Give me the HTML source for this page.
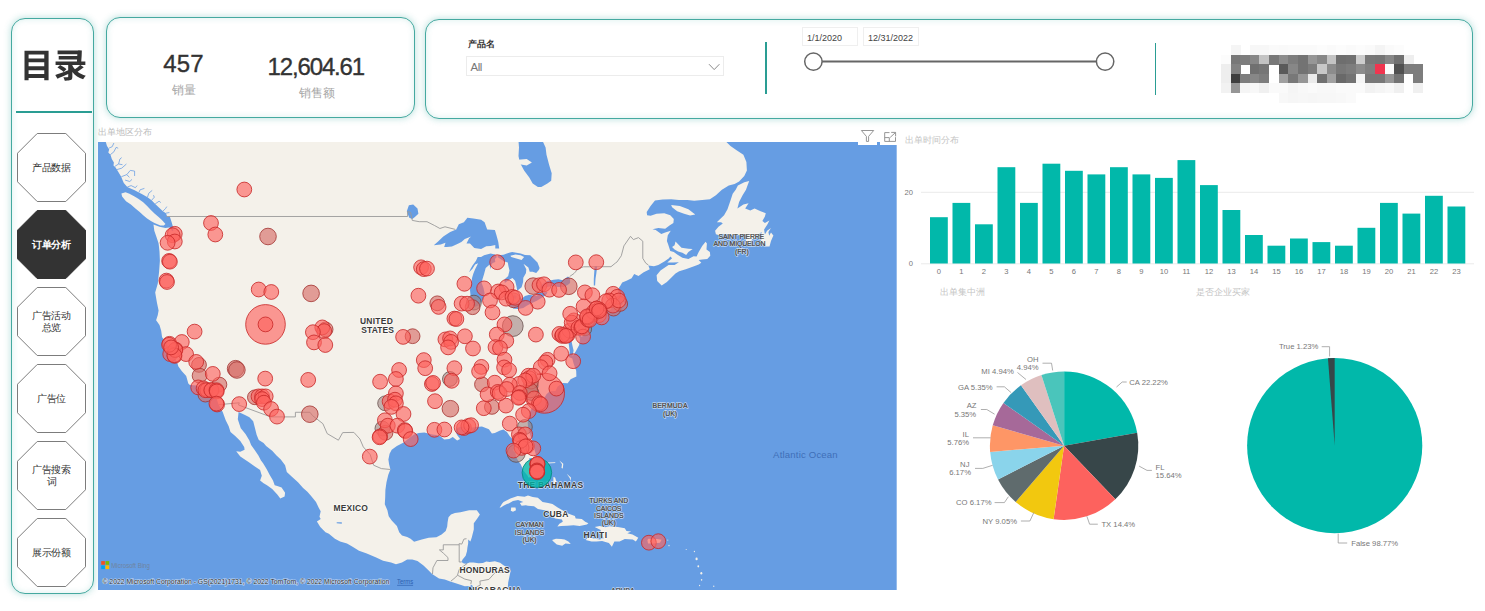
<!DOCTYPE html>
<html lang="zh">
<head>
<meta charset="utf-8">
<title>订单分析</title>
<style>
*{box-sizing:border-box;margin:0;padding:0}
html,body{width:1485px;height:611px;background:#fff;overflow:hidden}
body{position:relative;font-family:"Liberation Sans",sans-serif;color:#333}
.abs{position:absolute}
.card{position:absolute;border:1px solid #45a9a0;background:#fff;box-shadow:0 0 6px 1px rgba(58,169,159,.3),inset 0 0 6px 0 rgba(58,169,159,.2)}
.lbl{position:absolute;white-space:nowrap;line-height:1}
.oct{position:absolute;left:17px;width:69px;height:69px}
.oct svg{position:absolute;left:0;top:0}
.oct span{position:absolute;left:0;right:0;top:50%;transform:translateY(-50%);text-align:center;font-size:10.3px;line-height:12px;color:#333;letter-spacing:-.3px}
.oct.on span{color:#fff;font-weight:bold}
.gray{color:#b9b9b9}
</style>
</head>
<body>
<!-- left nav -->
<div class="card" style="left:11px;top:18px;width:83px;height:576px;border-radius:14px"></div>
<svg class="abs" style="left:19px;top:44px" width="70" height="40" viewBox="0 0 70 40" role="img" aria-label="目录"><title>目录</title>
<g transform="translate(0.74,33.5) scale(0.03377,-0.03377)" fill="#333"><path d="M262 450H726V332H262ZM262 564V678H726V564ZM262 218H726V101H262ZM141 795V-79H262V-16H726V-79H854V795Z"/><path transform="translate(1000,0)" d="M116 295C179 259 260 204 297 166L382 248C341 286 258 337 196 368ZM121 801V691H705L703 638H154V531H697L694 477H61V373H435V215C294 160 147 105 52 73L118 -35C210 2 324 51 435 100V26C435 12 429 8 413 8C398 7 340 7 292 10C308 -19 326 -62 333 -93C409 -94 463 -92 504 -77C545 -61 558 -34 558 23V166C639 66 744 -10 876 -54C894 -21 929 28 956 52C862 77 780 117 713 170C771 206 838 254 896 301L797 373H943V477H821C831 580 838 696 839 800L743 805L721 801ZM558 373H790C750 332 689 281 635 242C605 276 579 312 558 352Z"/></g></svg>
<div class="abs" style="left:16px;top:111.4px;width:76px;height:2px;background:#2a9d93"></div>
<div class="oct" style="top:133px"><svg width="69" height="69" viewBox="0 0 69 69"><polygon points="20.2,0.5 48.8,0.5 68.5,20.2 68.5,48.8 48.8,68.5 20.2,68.5 0.5,48.8 0.5,20.2" fill="#fff" stroke="#7c7c7c" stroke-width="1"/></svg><span>产品数据</span></div>
<div class="oct on" style="top:210px"><svg width="69" height="69" viewBox="0 0 69 69"><polygon points="20.2,0.5 48.8,0.5 68.5,20.2 68.5,48.8 48.8,68.5 20.2,68.5 0.5,48.8 0.5,20.2" fill="#333" stroke="#333" stroke-width="1"/></svg><span>订单分析</span></div>
<div class="oct" style="top:287px"><svg width="69" height="69" viewBox="0 0 69 69"><polygon points="20.2,0.5 48.8,0.5 68.5,20.2 68.5,48.8 48.8,68.5 20.2,68.5 0.5,48.8 0.5,20.2" fill="#fff" stroke="#7c7c7c" stroke-width="1"/></svg><span>广告活动<br>总览</span></div>
<div class="oct" style="top:364px"><svg width="69" height="69" viewBox="0 0 69 69"><polygon points="20.2,0.5 48.8,0.5 68.5,20.2 68.5,48.8 48.8,68.5 20.2,68.5 0.5,48.8 0.5,20.2" fill="#fff" stroke="#7c7c7c" stroke-width="1"/></svg><span>广告位</span></div>
<div class="oct" style="top:441px"><svg width="69" height="69" viewBox="0 0 69 69"><polygon points="20.2,0.5 48.8,0.5 68.5,20.2 68.5,48.8 48.8,68.5 20.2,68.5 0.5,48.8 0.5,20.2" fill="#fff" stroke="#7c7c7c" stroke-width="1"/></svg><span>广告搜索<br>词</span></div>
<div class="oct" style="top:518px"><svg width="69" height="69" viewBox="0 0 69 69"><polygon points="20.2,0.5 48.8,0.5 68.5,20.2 68.5,48.8 48.8,68.5 20.2,68.5 0.5,48.8 0.5,20.2" fill="#fff" stroke="#7c7c7c" stroke-width="1"/></svg><span>展示份额</span></div>
<!-- KPI card -->
<div class="card" style="left:106px;top:17px;width:309px;height:101px;border-radius:14px"></div>
<div class="lbl" style="left:163.3px;top:52.3px;font-size:24px;color:#333;letter-spacing:.1px;-webkit-text-stroke:.35px #333">457</div>
<div class="lbl gray" style="left:172px;top:84px;font-size:12px;color:#a6a6a6">销量</div>
<div class="lbl" style="left:267.6px;top:55.3px;font-size:24px;color:#333;letter-spacing:-1.15px;-webkit-text-stroke:.35px #333">12,604.61</div>
<div class="lbl gray" style="left:299px;top:87px;font-size:12.3px;color:#a6a6a6">销售额</div>
<!-- slicer card -->
<div class="card" style="left:424.5px;top:19px;width:1048.5px;height:99.7px;border-radius:14px"></div>
<div class="lbl" style="left:467.5px;top:40px;font-size:9px;font-weight:bold;color:#333">产品名</div>
<div class="abs" style="left:465.5px;top:55.5px;width:258px;height:20.5px;border:1px solid #ececec;background:#fff"></div>
<div class="lbl" style="left:470.5px;top:62.2px;font-size:11.4px;color:#777;letter-spacing:-.4px">All</div>
<svg class="abs" style="left:708px;top:62px" width="13" height="10" viewBox="0 0 13 10"><path d="M1 2.2 L6.2 7.6 L11.4 2.2" fill="none" stroke="#8a8a8a" stroke-width="1"/></svg>
<div class="abs" style="left:765.2px;top:42px;width:1.6px;height:51.5px;background:#2a9d93"></div>
<div class="abs" style="left:801.5px;top:27px;width:56px;height:19px;border:1px solid #efefef"></div>
<div class="lbl" style="left:807px;top:33.6px;font-size:9px;color:#444">1/1/2020</div>
<div class="abs" style="left:862.5px;top:27px;width:56px;height:19px;border:1px solid #efefef"></div>
<div class="lbl" style="left:868px;top:33.6px;font-size:9px;color:#444">12/31/2022</div>
<svg class="abs" style="left:800px;top:48px" width="320" height="28" viewBox="0 0 320 28"><line x1="13.4" y1="13.5" x2="305.1" y2="13.5" stroke="#666" stroke-width="2"/><circle cx="13.4" cy="13.6" r="8.7" fill="#fff" stroke="#666" stroke-width="1.5"/><circle cx="305.1" cy="13.6" r="8.7" fill="#fff" stroke="#666" stroke-width="1.5"/></svg>
<div class="abs" style="left:1154.7px;top:43px;width:1.6px;height:52px;background:#2a9d93"></div>
<svg class="abs" style="left:1221.4px;top:45.3px" width="202.0" height="57.7" viewBox="0 0 202.0 57.7" shape-rendering="crispEdges"><rect x="9.62" y="0.00" width="9.92" height="9.92" fill="#f5f5f5"/><rect x="28.86" y="0.00" width="9.92" height="9.92" fill="#f7f7f7"/><rect x="38.48" y="0.00" width="9.92" height="9.92" fill="#f7f7f7"/><rect x="48.10" y="0.00" width="9.92" height="9.92" fill="#fafafa"/><rect x="57.72" y="0.00" width="9.92" height="9.92" fill="#f9f9f9"/><rect x="67.34" y="0.00" width="9.92" height="9.92" fill="#fafafa"/><rect x="76.96" y="0.00" width="9.92" height="9.92" fill="#fafafa"/><rect x="86.58" y="0.00" width="9.92" height="9.92" fill="#fafafa"/><rect x="96.20" y="0.00" width="9.92" height="9.92" fill="#fcfcfc"/><rect x="105.82" y="0.00" width="9.92" height="9.92" fill="#fafafa"/><rect x="115.44" y="0.00" width="9.92" height="9.92" fill="#fcfcfc"/><rect x="125.06" y="0.00" width="9.92" height="9.92" fill="#fafafa"/><rect x="134.68" y="0.00" width="9.92" height="9.92" fill="#fcfcfc"/><rect x="144.30" y="0.00" width="9.92" height="9.92" fill="#fafafa"/><rect x="153.92" y="0.00" width="9.92" height="9.92" fill="#f4f4f4"/><rect x="163.54" y="0.00" width="9.92" height="9.92" fill="#fafafa"/><rect x="173.16" y="0.00" width="9.92" height="9.92" fill="#fcfcfc"/><rect x="0.00" y="9.62" width="9.92" height="9.92" fill="#fcfcfc"/><rect x="9.62" y="9.62" width="9.92" height="9.92" fill="#787878"/><rect x="19.24" y="9.62" width="9.92" height="9.92" fill="#7d7d7d"/><rect x="28.86" y="9.62" width="9.92" height="9.92" fill="#878787"/><rect x="38.48" y="9.62" width="9.92" height="9.92" fill="#c3c3c3"/><rect x="48.10" y="9.62" width="9.92" height="9.92" fill="#787878"/><rect x="57.72" y="9.62" width="9.92" height="9.92" fill="#8c8c8c"/><rect x="67.34" y="9.62" width="9.92" height="9.92" fill="#7d7d7d"/><rect x="76.96" y="9.62" width="9.92" height="9.92" fill="#737373"/><rect x="86.58" y="9.62" width="9.92" height="9.92" fill="#969696"/><rect x="96.20" y="9.62" width="9.92" height="9.92" fill="#878787"/><rect x="105.82" y="9.62" width="9.92" height="9.92" fill="#c3c3c3"/><rect x="115.44" y="9.62" width="9.92" height="9.92" fill="#6e6e6e"/><rect x="125.06" y="9.62" width="9.92" height="9.92" fill="#707070"/><rect x="134.68" y="9.62" width="9.92" height="9.92" fill="#cdcdcd"/><rect x="144.30" y="9.62" width="9.92" height="9.92" fill="#787878"/><rect x="153.92" y="9.62" width="9.92" height="9.92" fill="#767676"/><rect x="163.54" y="9.62" width="9.92" height="9.92" fill="#878787"/><rect x="173.16" y="9.62" width="9.92" height="9.92" fill="#707070"/><rect x="182.78" y="9.62" width="9.92" height="9.92" fill="#eeeeee"/><rect x="0.00" y="19.24" width="9.92" height="9.92" fill="#eeeeee"/><rect x="9.62" y="19.24" width="9.92" height="9.92" fill="#828282"/><rect x="28.86" y="19.24" width="9.92" height="9.92" fill="#707070"/><rect x="38.48" y="19.24" width="9.92" height="9.92" fill="#767676"/><rect x="57.72" y="19.24" width="9.92" height="9.92" fill="#5a5a5a"/><rect x="67.34" y="19.24" width="9.92" height="9.92" fill="#878787"/><rect x="76.96" y="19.24" width="9.92" height="9.92" fill="#737373"/><rect x="86.58" y="19.24" width="9.92" height="9.92" fill="#7d7d7d"/><rect x="96.20" y="19.24" width="9.92" height="9.92" fill="#c8c8c8"/><rect x="105.82" y="19.24" width="9.92" height="9.92" fill="#8c8c8c"/><rect x="115.44" y="19.24" width="9.92" height="9.92" fill="#787878"/><rect x="125.06" y="19.24" width="9.92" height="9.92" fill="#7d7d7d"/><rect x="134.68" y="19.24" width="9.92" height="9.92" fill="#8c8c8c"/><rect x="144.30" y="19.24" width="9.92" height="9.92" fill="#808080"/><rect x="153.92" y="19.24" width="9.92" height="9.92" fill="#f0354f"/><rect x="163.54" y="19.24" width="9.92" height="9.92" fill="#fafafa"/><rect x="173.16" y="19.24" width="9.92" height="9.92" fill="#505050"/><rect x="182.78" y="19.24" width="9.92" height="9.92" fill="#7d7d7d"/><rect x="192.40" y="19.24" width="9.92" height="9.92" fill="#7d7d7d"/><rect x="0.00" y="28.86" width="9.92" height="9.92" fill="#eeeeee"/><rect x="9.62" y="28.86" width="9.92" height="9.92" fill="#3e3e3e"/><rect x="19.24" y="28.86" width="9.92" height="9.92" fill="#7d7d7d"/><rect x="28.86" y="28.86" width="9.92" height="9.92" fill="#878787"/><rect x="38.48" y="28.86" width="9.92" height="9.92" fill="#7d7d7d"/><rect x="57.72" y="28.86" width="9.92" height="9.92" fill="#a0a0a0"/><rect x="67.34" y="28.86" width="9.92" height="9.92" fill="#787878"/><rect x="76.96" y="28.86" width="9.92" height="9.92" fill="#969696"/><rect x="86.58" y="28.86" width="9.92" height="9.92" fill="#ebebeb"/><rect x="96.20" y="28.86" width="9.92" height="9.92" fill="#707070"/><rect x="105.82" y="28.86" width="9.92" height="9.92" fill="#a0a0a0"/><rect x="115.44" y="28.86" width="9.92" height="9.92" fill="#696969"/><rect x="125.06" y="28.86" width="9.92" height="9.92" fill="#737373"/><rect x="134.68" y="28.86" width="9.92" height="9.92" fill="#f5f5f5"/><rect x="144.30" y="28.86" width="9.92" height="9.92" fill="#787878"/><rect x="153.92" y="28.86" width="9.92" height="9.92" fill="#787878"/><rect x="163.54" y="28.86" width="9.92" height="9.92" fill="#969696"/><rect x="173.16" y="28.86" width="9.92" height="9.92" fill="#737373"/><rect x="192.40" y="28.86" width="9.92" height="9.92" fill="#7d7d7d"/><rect x="0.00" y="38.48" width="9.92" height="9.92" fill="#f2f2f2"/><rect x="9.62" y="38.48" width="9.92" height="9.92" fill="#969696"/><rect x="19.24" y="38.48" width="9.92" height="9.92" fill="#f5f5f5"/><rect x="28.86" y="38.48" width="9.92" height="9.92" fill="#f8f8f8"/><rect x="38.48" y="38.48" width="9.92" height="9.92" fill="#f0f0f0"/><rect x="48.10" y="38.48" width="9.92" height="9.92" fill="#fafafa"/><rect x="57.72" y="38.48" width="9.92" height="9.92" fill="#fafafa"/><rect x="67.34" y="38.48" width="9.92" height="9.92" fill="#f5f5f5"/><rect x="76.96" y="38.48" width="9.92" height="9.92" fill="#f8f8f8"/><rect x="86.58" y="38.48" width="9.92" height="9.92" fill="#fafafa"/><rect x="96.20" y="38.48" width="9.92" height="9.92" fill="#f8f8f8"/><rect x="105.82" y="38.48" width="9.92" height="9.92" fill="#f8f8f8"/><rect x="115.44" y="38.48" width="9.92" height="9.92" fill="#fafafa"/><rect x="125.06" y="38.48" width="9.92" height="9.92" fill="#fafafa"/><rect x="134.68" y="38.48" width="9.92" height="9.92" fill="#fafafa"/><rect x="144.30" y="38.48" width="9.92" height="9.92" fill="#f2f2f2"/><rect x="153.92" y="38.48" width="9.92" height="9.92" fill="#f5f5f5"/><rect x="163.54" y="38.48" width="9.92" height="9.92" fill="#f8f8f8"/><rect x="173.16" y="38.48" width="9.92" height="9.92" fill="#f0f0f0"/><rect x="192.40" y="38.48" width="9.92" height="9.92" fill="#f0f0f0"/><rect x="57.72" y="48.10" width="9.92" height="9.92" fill="#f8f8f8"/><rect x="67.34" y="48.10" width="9.92" height="9.92" fill="#f6f6f6"/><rect x="76.96" y="48.10" width="9.92" height="9.92" fill="#f7f7f7"/><rect x="86.58" y="48.10" width="9.92" height="9.92" fill="#f6f6f6"/><rect x="96.20" y="48.10" width="9.92" height="9.92" fill="#f7f7f7"/><rect x="105.82" y="48.10" width="9.92" height="9.92" fill="#f7f7f7"/><rect x="115.44" y="48.10" width="9.92" height="9.92" fill="#f8f8f8"/><rect x="125.06" y="48.10" width="9.92" height="9.92" fill="#fafafa"/></svg>
<!-- map -->
<div class="lbl" style="left:98.3px;top:127.8px;font-size:9px;color:#bcbcbc">出单地区分布</div>
<svg class="abs" style="left:98.4px;top:141.6px" width="798.7" height="448.6" viewBox="0 0 798.7 448.6">
<rect width="798.7" height="448.6" fill="#669de3"/>
<path fill="#f4f1ea" d="M-3.0 -24.5L6.5 -4.9L7.8 0.0L9.0 4.0L11.2 7.6L10.3 10.5L12.5 12.7L13.8 17.0L15.9 20.6L15.5 23.4L17.6 25.5L20.2 29.8L23.2 34.7L24.5 38.1L25.8 40.9L29.3 45.0L33.1 46.7L36.1 48.0L40.9 50.5L44.7 52.4L49.5 55.2L53.6 58.3L57.2 61.9L60.9 65.5L64.9 69.2L67.9 71.2L69.2 74.5L71.8 74.5L73.5 79.7L74.8 84.2L75.3 88.7L74.0 89.3L72.7 86.1L71.0 85.5L67.5 85.9L61.5 84.8L55.5 82.5L56.3 88.7L58.9 96.3L60.6 101.4L61.5 109.5L61.9 118.7L61.1 129.7L59.8 141.6L57.2 150.5L58.9 160.4L60.6 168.4L59.8 172.9L58.1 178.2L61.5 183.1L63.2 188.7L64.1 195.3L68.4 200.8L70.1 205.2L73.5 207.4L74.4 212.8L77.0 216.6L79.1 220.3L80.4 224.6L83.9 229.3L88.2 234.1L90.3 241.4L91.9 243.0L98.5 243.5L102.8 246.1L108.8 247.3L109.7 250.2L114.0 251.8L118.7 256.9L120.6 262.7L124.7 270.1L127.7 278.2L130.7 284.2L132.5 290.1L137.2 294.1L142.3 299.0L146.2 304.9L146.6 307.8L142.3 309.7L138.2 309.2L142.3 314.6L147.5 317.9L150.9 320.3L156.5 324.2L162.1 328.0L163.8 333.7L162.1 338.5L165.6 341.3L169.0 343.2L174.2 346.9L179.3 352.6L182.3 356.5L186.6 354.4L187.1 350.7L183.6 345.5L179.3 344.1L176.7 343.2L175.0 338.5L171.6 332.8L168.6 327.0L165.1 321.3L163.0 318.4L160.4 313.6L156.5 307.8L153.1 302.9L151.4 298.5L147.5 292.1L142.8 286.2L141.1 281.2L139.8 277.2L140.6 270.1L147.5 273.2L151.4 275.2L155.2 279.2L157.0 286.2L158.7 293.1L160.8 298.0L165.6 301.0L168.1 303.9L174.2 308.8L178.5 313.6L182.8 317.5L187.1 323.2L188.8 329.9L193.9 334.7L200.0 340.3L205.1 346.0L209.4 349.7L212.7 353.5L218.0 360.0L220.6 365.6L222.7 369.3L221.5 374.8L222.7 377.1L218.9 379.4L222.3 384.9L227.5 390.3L230.9 391.7L236.9 396.7L242.1 399.4L249.0 401.6L254.6 404.8L261.0 408.8L268.8 411.5L278.2 415.6L285.1 418.7L293.1 420.5L298.0 422.3L304.0 420.5L309.2 417.6L314.3 417.4L319.5 419.1L325.5 423.6L330.7 428.5L334.1 432.0L341.0 436.5L346.8 437.6L352.2 439.6L355.4 440.6L360.8 442.2L366.8 444.2L372.0 444.0L373.7 442.7L375.4 444.9L376.3 446.6L381.4 451.9L386.6 458.9L408.9 458.9L408.9 450.1L409.8 445.7L410.2 440.5L411.5 434.3L412.8 428.1L409.8 425.8L405.5 423.2L402.1 420.7L396.9 419.3L391.7 420.0L388.3 419.6L384.9 421.1L380.6 421.2L375.4 420.5L371.5 420.5L368.5 421.8L365.9 421.6L363.4 420.0L364.6 417.4L367.7 413.8L369.0 409.3L369.4 405.7L370.2 401.2L370.2 397.6L372.4 399.4L373.7 395.8L375.8 387.6L375.8 381.2L379.3 376.6L381.9 372.5L378.8 368.3L371.1 368.3L362.5 370.2L356.9 371.1L353.0 372.5L350.5 375.2L349.6 380.3L349.2 384.4L347.7 389.0L343.6 392.6L338.4 395.3L330.7 395.8L323.8 397.6L316.1 399.8L312.6 396.7L309.2 394.9L304.0 393.5L301.2 390.3L298.9 383.9L293.7 378.5L290.7 374.3L289.4 368.3L286.8 362.3L287.2 355.4L287.4 347.9L288.5 340.3L290.3 332.8L292.4 327.5L291.1 322.3L290.4 317.5L291.6 311.7L293.7 307.8L298.9 303.9L305.7 300.5L312.6 295.1L316.1 292.6L320.8 291.1L326.4 290.4L334.1 292.6L338.4 293.1L342.7 294.6L346.2 297.5L351.3 297.0L354.8 295.1L359.1 298.5L362.1 297.0L359.1 293.1L357.3 289.1L359.5 285.7L364.2 284.4L370.2 285.2L372.0 282.2L373.2 285.7L378.0 284.9L384.0 284.4L390.9 287.2L393.9 291.4L396.9 291.1L402.1 288.6L405.5 287.4L408.9 290.1L412.4 295.1L415.8 298.0L416.7 302.9L415.4 308.8L417.5 310.7L418.0 314.6L420.5 319.4L422.7 322.3L424.4 326.1L425.3 328.5L429.6 333.7L430.4 335.4L433.9 335.1L436.5 334.7L438.2 330.9L438.8 329.0L439.5 324.2L439.6 318.4L438.2 313.6L436.5 307.8L435.6 303.4L434.3 299.0L433.0 295.1L430.9 289.1L430.0 284.2L429.6 278.2L430.9 273.2L433.0 267.6L436.5 263.6L440.8 260.5L445.5 257.4L448.5 252.3L451.9 249.2L457.5 248.9L459.7 244.5L464.8 240.9L469.7 241.2L472.6 237.2L478.4 234.6L478.2 228.8L475.6 221.4L474.3 216.6L470.9 214.9L471.7 209.5L470.9 203.0L470.0 196.4L470.9 192.0L473.9 189.2L473.0 196.4L474.3 203.0L475.6 208.5L474.5 214.4L477.7 209.5L481.2 203.0L482.2 196.4L479.5 192.0L478.6 188.7L482.0 192.0L483.8 195.0L488.1 190.2L490.6 185.3L491.5 178.6L490.6 176.3L492.4 174.1L494.9 171.8L501.0 168.7L507.8 168.4L513.0 167.6L514.3 163.8L516.4 166.1L519.9 164.4L520.3 165.8L525.9 164.6L526.3 162.7L525.5 160.0L524.0 159.5L525.0 162.1L523.3 163.2L521.2 162.7L520.3 160.4L519.0 157.5L517.3 156.3L518.6 154.0L520.7 152.8L519.5 148.1L522.5 143.4L524.2 140.4L528.5 138.7L533.6 136.3L536.2 132.1L540.5 133.9L545.7 130.3L551.7 127.3L550.4 123.6L556.0 124.2L560.3 123.0L566.3 119.4L571.0 116.3L572.3 114.4L574.1 116.3L569.3 120.6L574.9 120.6L580.9 120.2L576.6 123.0L570.6 123.0L562.5 128.5L558.6 133.3L559.2 138.9L563.7 143.4L568.9 139.9L573.2 135.7L577.5 131.5L581.2 129.3L587.8 127.3L594.7 124.8L600.7 122.4L603.3 120.8L600.7 118.1L604.2 117.5L609.3 116.9L612.3 113.8L611.9 110.1L608.5 107.6L608.9 101.4L607.6 99.7L604.2 103.9L600.7 110.1L598.6 114.4L595.6 114.2L590.4 116.9L584.4 115.7L579.2 112.6L575.8 110.1L572.3 108.9L570.2 102.6L568.9 98.9L569.8 93.2L572.8 88.7L567.2 90.6L563.3 91.9L557.7 88.1L554.5 87.2L560.3 86.1L567.2 86.8L571.5 83.6L575.4 81.0L575.8 77.1L572.3 73.2L566.3 71.2L558.6 71.8L552.6 73.8L549.1 73.2L548.7 69.9L552.6 63.9L557.0 58.6L564.6 57.5L573.2 57.2L580.9 57.9L589.5 57.9L596.2 58.8L604.2 57.9L611.9 57.2L617.9 53.2L623.9 47.8L630.8 43.6L636.6 41.9L641.1 39.5L646.3 34.0L648.9 28.4L648.4 19.9L645.4 12.7L638.6 8.3L632.5 4.0L626.5 -1.9L620.5 -24.5Z M23.4 51.6L27.5 50.2L31.5 51.8L36.1 54.3L40.3 56.8L45.2 60.3L49.1 63.9L52.9 67.9L56.5 71.6L60.6 74.9L63.9 78.1L67.5 82.0L65.8 83.6L62.4 83.6L56.5 81.0L52.9 79.0L49.1 76.4L45.2 73.2L41.7 69.9L37.4 66.6L32.9 62.6L28.0 59.2L24.1 54.5Z M617.9 92.3L620.5 92.9L626.5 91.9L632.5 92.5L639.4 93.2L646.3 92.5L648.9 94.4L647.2 101.4L651.5 101.6L654.0 97.6L658.3 94.4L663.5 90.0L663.9 96.3L661.8 102.4L666.9 100.8L667.4 104.5L671.5 104.5L673.0 98.9L675.4 93.5L673.0 90.6L671.2 93.8L670.4 90.0L673.0 86.1L669.1 88.7L666.9 92.5L666.1 87.4L669.5 82.3L671.4 78.4L666.9 81.0L664.4 79.0L666.9 74.5L667.8 71.2L662.6 69.2L656.6 66.6L652.3 68.5L647.2 66.6L650.6 61.2L645.4 62.6L639.4 66.6L641.1 59.9L644.6 53.2L648.0 47.8L649.7 43.0L651.2 39.1L646.3 40.2L639.9 43.6L637.7 47.8L634.7 51.8L632.5 58.6L629.5 67.2L626.1 73.2L621.4 77.7L618.8 80.3L623.1 80.3L624.8 81.6L620.5 84.8L617.1 88.7Z M577.5 99.5L583.5 105.8L590.4 106.8L594.7 107.0L590.4 110.1L588.2 113.0L584.4 110.7L580.1 109.5L576.6 107.6L574.1 104.9L576.6 103.3Z M573.2 63.0L581.8 63.9L590.4 67.2L597.3 72.5L592.1 73.4L586.1 71.8L579.2 69.2L574.1 65.2Z M401.6 365.6L402.9 363.7L403.8 361.9L405.5 360.0L412.4 356.5L419.7 354.0L426.6 354.7L430.0 353.5L434.7 354.9L439.9 355.8L444.6 360.0L450.2 360.9L454.5 361.9L459.7 365.6L464.0 367.9L470.0 371.6L473.4 372.7L476.9 373.9L477.7 376.6L483.8 377.1L487.2 379.8L490.4 381.2L488.9 382.4L481.6 383.9L475.6 383.3L469.1 383.7L463.1 384.1L459.4 384.4L461.4 381.7L464.8 379.8L464.0 377.5L457.1 376.6L452.8 373.4L450.6 368.8L445.1 367.9L439.9 367.0L436.0 364.2L430.0 363.7L427.9 363.3L423.6 363.7L421.8 360.9L425.3 360.0L420.1 358.1L415.0 359.1L410.7 361.4L408.9 361.9L405.5 363.7L402.9 365.6Z M413.2 365.6L417.5 365.6L418.0 368.3L415.0 369.7L412.8 368.8Z M454.1 398.0L458.0 396.7L463.1 396.9L466.6 397.6L470.4 399.6L472.8 401.9L467.4 401.6L464.2 403.7L458.8 402.4L455.4 399.4Z M496.7 384.9L501.8 383.9L507.0 385.3L511.7 384.2L519.9 384.9L526.8 386.2L528.5 389.0L533.2 389.4L529.3 391.2L534.5 392.6L540.3 395.8L537.9 399.4L534.8 397.4L526.8 396.9L521.6 399.4L516.4 399.4L513.9 404.8L510.9 400.9L504.1 399.1L498.4 399.4L493.6 399.4L487.6 398.0L490.5 395.3L496.7 396.7L501.8 397.4L505.7 396.2L502.7 391.2L502.7 388.0L499.2 386.2Z M550.4 396.7L559.4 396.9L563.6 397.8L562.0 400.7L555.1 401.5L550.0 401.6L549.4 398.0Z M455.4 335.1L457.1 335.6L459.2 342.2L459.7 346.9L458.0 345.1L455.4 340.3Z M449.4 320.5L457.1 320.2L457.5 321.1L449.4 321.5Z M461.4 318.4L465.3 321.8L464.8 326.6L463.5 326.1L464.0 322.3Z M468.7 331.8L473.0 335.6L472.6 338.9L471.7 336.1Z M491.2 176.3L494.1 173.3L499.2 172.4L504.4 171.8L506.1 170.1L509.9 171.0L505.3 173.3L500.1 175.0L494.9 176.6Z"/>
<path fill="#669de3" d="M419.3 -24.5L420.1 -6.4L421.0 5.4L420.5 14.1L421.8 20.6L426.1 28.4L431.3 35.4L434.7 41.6L439.9 45.0L443.3 45.0L449.4 41.6L453.2 38.8L453.7 31.2L451.1 22.7L448.5 12.7L447.6 5.4L444.2 -1.9L442.5 -24.5Z M335.8 103.3L340.1 99.5L345.3 94.4L352.2 90.0L358.2 87.4L360.8 82.3L365.9 80.3L369.4 75.8L375.4 76.4L383.1 77.7L386.6 80.3L389.2 87.4L396.9 88.1L398.6 93.8L400.3 100.1L401.2 106.4L397.3 106.4L397.3 103.0L392.6 103.9L388.3 104.3L383.1 107.0L376.3 106.1L372.0 101.4L368.5 101.4L371.1 96.3L373.2 94.4L366.8 97.0L363.4 100.1L359.9 101.8L353.9 104.5L348.7 105.1L346.2 105.1L347.5 100.8L342.7 102.6Z M399.0 115.1L396.9 112.6L392.6 111.4L386.1 113.2L383.1 115.1L379.7 115.1L378.0 118.7L374.5 123.6L372.4 127.3L371.1 130.3L374.5 126.7L377.1 122.4L380.1 121.2L377.1 127.3L375.4 131.5L374.1 135.7L373.2 141.6L372.0 148.1L372.8 155.7L374.5 162.1L377.1 164.7L380.6 163.6L384.0 159.2L386.1 154.6L386.6 151.3L385.5 146.0L383.7 141.0L384.4 137.5L386.1 132.1L387.7 126.1L391.7 122.4L392.2 127.3L393.5 122.4L394.7 120.9L397.3 120.0L396.9 116.9Z M399.5 115.1L400.3 113.2L405.5 112.8L408.9 111.4L414.1 110.1L418.4 110.7L422.7 111.4L427.0 113.0L432.2 113.2L436.5 117.5L439.5 120.6L441.6 126.1L440.8 127.9L438.2 130.9L434.7 129.7L431.7 129.7L430.4 125.4L425.5 121.8L428.3 127.3L428.0 130.9L425.3 135.7L425.1 139.9L423.6 145.2L419.3 148.7L418.4 144.0L417.1 138.7L414.5 136.0L410.7 138.1L406.8 141.0L406.4 137.5L410.2 133.9L411.5 128.5L410.4 124.0L409.8 120.6L406.4 119.4L402.9 117.3Z M410.2 163.8L412.8 159.8L418.4 160.9L422.7 157.5L427.0 154.0L431.3 152.8L435.6 153.6L439.5 154.0L438.2 151.1L443.3 150.5L449.5 150.1L448.5 152.2L445.1 155.1L439.2 158.6L433.0 161.5L428.7 163.8L425.3 166.1L420.1 167.0L415.8 166.7L413.2 165.0Z M415.0 155.1L416.7 152.8L418.8 154.6L417.5 156.9Z M441.6 145.4L443.8 142.8L445.9 141.3L449.4 139.0L455.6 137.8L460.5 137.2L464.8 138.3L467.4 136.3L470.0 134.5L472.1 136.3L472.1 141.0L470.0 142.8L465.7 144.9L460.5 144.9L453.7 144.0L447.9 145.2L444.2 146.1Z M431.3 316.0L434.3 316.5L434.3 319.9L431.7 319.9Z M238.7 380.3L243.8 380.3L243.8 381.7L238.7 381.2Z M308.8 69.2L310.9 63.2L315.2 62.6L319.5 66.6L320.4 71.8L316.9 75.1L314.3 77.1L311.3 75.8L310.0 72.5Z M496.7 124.2L499.2 124.2L498.4 130.9L497.5 136.9L497.1 143.4L495.8 143.4L495.8 136.9L496.2 130.9Z"/>
<path fill="#f4f1ea" d="M420.1 17.7L428.7 17.0L433.9 20.6L428.7 23.4L420.1 22.0Z M412.4 113.8L417.5 112.6L422.7 113.2L426.1 115.1L423.6 118.1L417.5 116.3L413.2 115.1Z"/>
<path fill="none" stroke="#669de3" stroke-width="0.9" stroke-opacity=".85" stroke-linejoin="round" d="M12.3 12.7L15.9 9.8L18.1 5.4L20.2 6.2 M10.8 6.2L14.2 4.7L15.9 1.0 M16.8 24.4L20.6 22.0L21.9 17.0L23.7 15.6 M20.6 22.0L24.5 22.7 M18.5 27.7L23.7 26.2L28.4 22.0 M23.4 34.7L28.8 32.6L32.3 28.4L36.6 29.1L36.6 34.0 M28.8 32.6L31.4 35.4 M27.1 38.1L31.8 39.5L34.0 37.4 M29.3 45.0L33.1 43.6L37.4 45.7L39.1 43.6 M40.9 50.5L42.1 47.8L46.4 46.4 M49.5 55.2L50.8 51.2L54.2 48.4 M53.6 58.3L56.3 55.2L55.5 53.2 M57.2 61.9L61.1 59.2L62.8 60.6 M64.9 69.2L67.5 66.6L68.8 64.6 M67.9 71.2L71.4 70.5"/>
<ellipse cx="598.6" cy="416.9" rx="1.1" ry="1.4" fill="#f4f1ea"/>
<ellipse cx="600.3" cy="424.3" rx="0.9" ry="1.1" fill="#f4f1ea"/>
<ellipse cx="603.3" cy="431.2" rx="1.0" ry="1.2" fill="#f4f1ea"/>
<ellipse cx="603.6" cy="437.8" rx="0.7" ry="0.9" fill="#f4f1ea"/>
<ellipse cx="601.6" cy="443.5" rx="0.6" ry="0.8" fill="#f4f1ea"/>
<ellipse cx="596.4" cy="409.5" rx="0.6" ry="0.8" fill="#f4f1ea"/>
<ellipse cx="588.2" cy="407.5" rx="0.5" ry="0.6" fill="#f4f1ea"/>
<ellipse cx="615.8" cy="444.2" rx="0.6" ry="0.8" fill="#f4f1ea"/>
<ellipse cx="571.0" cy="403.6" rx="0.6" ry="0.8" fill="#f4f1ea"/>
<ellipse cx="569.8" cy="398.1" rx="0.5" ry="0.6" fill="#f4f1ea"/>
<path fill="none" stroke="#9a9a9a" stroke-width="0.9" d="M68.4 74.5L309.6 74.5L309.6 69.5L312.6 70.5L314.3 78.4L321.2 79.7L329.0 79.7L336.7 83.6L341.9 86.5L347.0 84.8L357.3 87.4 M485.5 124.8L513.0 124.7L517.3 121.2L519.0 120.0L523.3 113.8L525.9 103.9L532.5 94.3L535.4 97.6L540.5 95.6L544.8 99.2L544.8 116.3L547.8 121.2L550.4 123.0 M471.7 134.5L476.0 131.5L480.3 126.7L485.5 124.8 M120.6 262.7L141.3 260.8L140.5 263.0L172.7 274.9L197.4 274.9L197.4 270.3L212.0 270.3L214.6 273.7L224.9 281.7L229.2 291.6L240.4 298.2L244.7 290.6L255.9 290.4L261.9 297.0L265.3 304.9L272.2 312.6L275.6 323.2L283.4 326.6L292.4 327.5 M334.5 432.0L335.0 425.8L338.9 418.5L350.0 418.5L350.0 415.6L345.3 411.1L341.4 407.9L345.3 407.9L345.3 402.8L361.2 402.8L361.2 420.0L363.4 420.0 M361.2 402.8L361.2 401.6L363.8 402.1L365.9 397.1L368.5 396.7 M369.0 421.6L361.2 427.4L359.5 433.2L357.8 435.1L353.0 439.1 M359.5 433.2L366.8 437.1L373.5 438.7L372.8 442.2 M376.7 445.7L382.3 443.1L381.9 439.1L390.9 437.4L397.8 429.8L406.4 430.3L412.8 428.1"/>
<g font-family="Liberation Sans, sans-serif">
<text x="261.9" y="182.0" font-size="8.5" font-weight="bold" textLength="33.0" fill="#3a3a3a" stroke="#fff" stroke-opacity=".7" stroke-width="1.4" paint-order="stroke" stroke-linejoin="round">UNITED</text>
<text x="263.3" y="190.9" font-size="8.5" font-weight="bold" textLength="32.6" fill="#3a3a3a" stroke="#fff" stroke-opacity=".7" stroke-width="1.4" paint-order="stroke" stroke-linejoin="round">STATES</text>
<text x="235.6" y="368.6" font-size="8.5" font-weight="bold" textLength="34.2" fill="#3a3a3a" stroke="#fff" stroke-opacity=".7" stroke-width="1.4" paint-order="stroke" stroke-linejoin="round">MEXICO</text>
<text x="419.7" y="345.8" font-size="8.5" font-weight="bold" textLength="65.4" fill="#3a3a3a" stroke="#fff" stroke-opacity=".7" stroke-width="1.4" paint-order="stroke" stroke-linejoin="round">THE BAHAMAS</text>
<text x="445.3" y="375.1" font-size="8.5" font-weight="bold" textLength="25.0" fill="#3a3a3a" stroke="#fff" stroke-opacity=".7" stroke-width="1.4" paint-order="stroke" stroke-linejoin="round">CUBA</text>
<text x="485.4" y="395.9" font-size="8.5" font-weight="bold" textLength="23.6" fill="#3a3a3a" stroke="#fff" stroke-opacity=".7" stroke-width="1.4" paint-order="stroke" stroke-linejoin="round">HAITI</text>
<text x="361.6" y="430.9" font-size="8.5" font-weight="bold" textLength="50.0" fill="#3a3a3a" stroke="#fff" stroke-opacity=".7" stroke-width="1.4" paint-order="stroke" stroke-linejoin="round">HONDURAS</text>
<text x="370.5" y="451.1" font-size="8.5" font-weight="bold" textLength="53.0" fill="#3a3a3a" stroke="#fff" stroke-opacity=".7" stroke-width="1.4" paint-order="stroke" stroke-linejoin="round">NICARAGUA</text>
<text x="554.5" y="266.3" font-size="6.9" textLength="35.0" fill="#fff" fill-opacity=".6" stroke="#fff" stroke-opacity=".6" stroke-width="1.5" stroke-linejoin="round">BERMUDA</text><text x="554.5" y="266.3" font-size="6.9" textLength="35.0" fill="#3a3a3a" stroke="#3a3a3a" stroke-width="0.22">BERMUDA</text>
<text x="565.0" y="274.3" font-size="6.9" textLength="14.0" fill="#fff" fill-opacity=".6" stroke="#fff" stroke-opacity=".6" stroke-width="1.5" stroke-linejoin="round">(UK)</text><text x="565.0" y="274.3" font-size="6.9" textLength="14.0" fill="#3a3a3a" stroke="#3a3a3a" stroke-width="0.22">(UK)</text>
<text x="491.2" y="361.1" font-size="6.9" textLength="39.0" fill="#fff" fill-opacity=".6" stroke="#fff" stroke-opacity=".6" stroke-width="1.5" stroke-linejoin="round">TURKS AND</text><text x="491.2" y="361.1" font-size="6.9" textLength="39.0" fill="#3a3a3a" stroke="#3a3a3a" stroke-width="0.22">TURKS AND</text>
<text x="498.1" y="368.6" font-size="6.9" textLength="25.3" fill="#fff" fill-opacity=".6" stroke="#fff" stroke-opacity=".6" stroke-width="1.5" stroke-linejoin="round">CAICOS</text><text x="498.1" y="368.6" font-size="6.9" textLength="25.3" fill="#3a3a3a" stroke="#3a3a3a" stroke-width="0.22">CAICOS</text>
<text x="496.0" y="375.8" font-size="6.9" textLength="29.5" fill="#fff" fill-opacity=".6" stroke="#fff" stroke-opacity=".6" stroke-width="1.5" stroke-linejoin="round">ISLANDS</text><text x="496.0" y="375.8" font-size="6.9" textLength="29.5" fill="#3a3a3a" stroke="#3a3a3a" stroke-width="0.22">ISLANDS</text>
<text x="503.7" y="383.1" font-size="6.9" textLength="14.0" fill="#fff" fill-opacity=".6" stroke="#fff" stroke-opacity=".6" stroke-width="1.5" stroke-linejoin="round">(UK)</text><text x="503.7" y="383.1" font-size="6.9" textLength="14.0" fill="#3a3a3a" stroke="#3a3a3a" stroke-width="0.22">(UK)</text>
<text x="417.4" y="385.5" font-size="6.9" textLength="28.3" fill="#fff" fill-opacity=".6" stroke="#fff" stroke-opacity=".6" stroke-width="1.5" stroke-linejoin="round">CAYMAN</text><text x="417.4" y="385.5" font-size="6.9" textLength="28.3" fill="#3a3a3a" stroke="#3a3a3a" stroke-width="0.22">CAYMAN</text>
<text x="416.8" y="393.1" font-size="6.9" textLength="29.5" fill="#fff" fill-opacity=".6" stroke="#fff" stroke-opacity=".6" stroke-width="1.5" stroke-linejoin="round">ISLANDS</text><text x="416.8" y="393.1" font-size="6.9" textLength="29.5" fill="#3a3a3a" stroke="#3a3a3a" stroke-width="0.22">ISLANDS</text>
<text x="424.5" y="400.3" font-size="6.9" textLength="14.0" fill="#fff" fill-opacity=".6" stroke="#fff" stroke-opacity=".6" stroke-width="1.5" stroke-linejoin="round">(UK)</text><text x="424.5" y="400.3" font-size="6.9" textLength="14.0" fill="#3a3a3a" stroke="#3a3a3a" stroke-width="0.22">(UK)</text>
<text x="620.6" y="96.7" font-size="6.9" textLength="45.5" fill="#fff" fill-opacity=".6" stroke="#fff" stroke-opacity=".6" stroke-width="1.5" stroke-linejoin="round">SAINT PIERRE</text><text x="620.6" y="96.7" font-size="6.9" textLength="45.5" fill="#3a3a3a" stroke="#3a3a3a" stroke-width="0.22">SAINT PIERRE</text>
<text x="615.6" y="104.3" font-size="6.9" textLength="51.8" fill="#fff" fill-opacity=".6" stroke="#fff" stroke-opacity=".6" stroke-width="1.5" stroke-linejoin="round">AND MIQUELON</text><text x="615.6" y="104.3" font-size="6.9" textLength="51.8" fill="#3a3a3a" stroke="#3a3a3a" stroke-width="0.22">AND MIQUELON</text>
<text x="637.1" y="111.9" font-size="6.9" textLength="13.6" fill="#fff" fill-opacity=".6" stroke="#fff" stroke-opacity=".6" stroke-width="1.5" stroke-linejoin="round">(FR)</text><text x="637.1" y="111.9" font-size="6.9" textLength="13.6" fill="#3a3a3a" stroke="#3a3a3a" stroke-width="0.22">(FR)</text>
<text x="513.1" y="451.1" font-size="6.9" textLength="23.6" fill="#fff" fill-opacity=".6" stroke="#fff" stroke-opacity=".6" stroke-width="1.5" stroke-linejoin="round">ARUBA</text><text x="513.1" y="451.1" font-size="6.9" textLength="23.6" fill="#3a3a3a" stroke="#3a3a3a" stroke-width="0.22">ARUBA</text>
<text x="675.1" y="315.9" font-size="9.6" textLength="64.6" fill="#3f6fb8">Atlantic Ocean</text>
<rect x="3.2" y="419.1" width="3.7" height="3.7" fill="#f25022"/><rect x="7.5" y="419.1" width="3.7" height="3.7" fill="#7fba00"/><rect x="3.2" y="423.4" width="3.7" height="3.7" fill="#00a4ef"/><rect x="7.5" y="423.4" width="3.7" height="3.7" fill="#ffb900"/>
<text x="13.3" y="425.6" font-size="6.4" fill="#6f84a0" textLength="38.5" lengthAdjust="spacingAndGlyphs">Microsoft Bing</text>
<text x="4.4" y="441.9" font-size="6.6" fill="#333" stroke="#fff" stroke-opacity=".6" stroke-width="1.2" paint-order="stroke" textLength="287" lengthAdjust="spacingAndGlyphs">© 2022 Microsoft Corporation - GS(2021)1731, © 2022 TomTom, © 2022 Microsoft Corporation</text>
<text x="299.1" y="441.9" font-size="6.6" fill="#2b5fb0" text-decoration="underline" textLength="16" lengthAdjust="spacingAndGlyphs">Terms</text>
</g>
<g stroke-width="0.9">
<circle cx="446.5" cy="251.2" r="20.0" fill="#fd625e" fill-opacity="0.64" stroke="#c62828" stroke-opacity="0.90"/>
<circle cx="167.5" cy="182.4" r="19.8" fill="#fd625e" fill-opacity="0.64" stroke="#c62828" stroke-opacity="0.90"/>
<circle cx="438.9" cy="330.7" r="14.8" fill="#01b8aa" fill-opacity="0.78" stroke="#018a80" stroke-opacity="0.90"/>
<circle cx="351.9" cy="237.0" r="7.4" fill="#a08682" fill-opacity="0.60" stroke="#5e4543" stroke-opacity="0.80"/>
<circle cx="287.1" cy="261.3" r="7.4" fill="#a08682" fill-opacity="0.60" stroke="#5e4543" stroke-opacity="0.80"/>
<circle cx="284.4" cy="286.5" r="7.4" fill="#a08682" fill-opacity="0.60" stroke="#5e4543" stroke-opacity="0.80"/>
<circle cx="375.9" cy="160.6" r="7.4" fill="#a08682" fill-opacity="0.60" stroke="#5e4543" stroke-opacity="0.80"/>
<circle cx="414.8" cy="184.1" r="10.4" fill="#a08682" fill-opacity="0.60" stroke="#5e4543" stroke-opacity="0.80"/>
<circle cx="487.1" cy="187.2" r="6.5" fill="#a08682" fill-opacity="0.60" stroke="#5e4543" stroke-opacity="0.80"/>
<circle cx="432.6" cy="243.8" r="7.4" fill="#a08682" fill-opacity="0.60" stroke="#5e4543" stroke-opacity="0.80"/>
<circle cx="433.5" cy="251.0" r="7.4" fill="#a08682" fill-opacity="0.60" stroke="#5e4543" stroke-opacity="0.80"/>
<circle cx="426.9" cy="285.0" r="7.4" fill="#a08682" fill-opacity="0.60" stroke="#5e4543" stroke-opacity="0.80"/>
<circle cx="418.2" cy="311.3" r="9.0" fill="#a08682" fill-opacity="0.60" stroke="#5e4543" stroke-opacity="0.80"/>
<circle cx="170.0" cy="94.5" r="8.3" fill="#d7706b" fill-opacity="0.66" stroke="#a23330" stroke-opacity="0.90"/>
<circle cx="101.0" cy="222.9" r="7.4" fill="#d7706b" fill-opacity="0.66" stroke="#a23330" stroke-opacity="0.90"/>
<circle cx="101.6" cy="233.7" r="7.4" fill="#d7706b" fill-opacity="0.66" stroke="#a23330" stroke-opacity="0.90"/>
<circle cx="137.6" cy="226.7" r="8.3" fill="#d7706b" fill-opacity="0.66" stroke="#a23330" stroke-opacity="0.90"/>
<circle cx="138.9" cy="228.0" r="8.3" fill="#d7706b" fill-opacity="0.66" stroke="#a23330" stroke-opacity="0.90"/>
<circle cx="121.4" cy="242.6" r="7.4" fill="#d7706b" fill-opacity="0.66" stroke="#a23330" stroke-opacity="0.90"/>
<circle cx="107.4" cy="252.6" r="7.4" fill="#d7706b" fill-opacity="0.66" stroke="#a23330" stroke-opacity="0.90"/>
<circle cx="156.9" cy="255.3" r="7.4" fill="#d7706b" fill-opacity="0.66" stroke="#a23330" stroke-opacity="0.90"/>
<circle cx="211.8" cy="272.2" r="8.3" fill="#d7706b" fill-opacity="0.66" stroke="#a23330" stroke-opacity="0.90"/>
<circle cx="213.1" cy="151.4" r="8.3" fill="#d7706b" fill-opacity="0.66" stroke="#a23330" stroke-opacity="0.90"/>
<circle cx="227.6" cy="187.4" r="7.4" fill="#d7706b" fill-opacity="0.66" stroke="#a23330" stroke-opacity="0.90"/>
<circle cx="339.3" cy="161.3" r="7.4" fill="#d7706b" fill-opacity="0.66" stroke="#a23330" stroke-opacity="0.90"/>
<circle cx="314.6" cy="194.2" r="7.4" fill="#d7706b" fill-opacity="0.66" stroke="#a23330" stroke-opacity="0.90"/>
<circle cx="352.4" cy="266.7" r="8.3" fill="#d7706b" fill-opacity="0.66" stroke="#a23330" stroke-opacity="0.90"/>
<circle cx="287.5" cy="290.8" r="7.4" fill="#d7706b" fill-opacity="0.66" stroke="#a23330" stroke-opacity="0.90"/>
<circle cx="393.9" cy="264.9" r="7.4" fill="#d7706b" fill-opacity="0.66" stroke="#a23330" stroke-opacity="0.90"/>
<circle cx="415.5" cy="158.3" r="7.4" fill="#d7706b" fill-opacity="0.66" stroke="#a23330" stroke-opacity="0.90"/>
<circle cx="374.6" cy="165.2" r="7.4" fill="#d7706b" fill-opacity="0.66" stroke="#a23330" stroke-opacity="0.90"/>
<circle cx="435.2" cy="144.1" r="8.3" fill="#d7706b" fill-opacity="0.66" stroke="#a23330" stroke-opacity="0.90"/>
<circle cx="470.8" cy="144.3" r="8.3" fill="#d7706b" fill-opacity="0.66" stroke="#a23330" stroke-opacity="0.90"/>
<circle cx="515.6" cy="166.6" r="7.4" fill="#d7706b" fill-opacity="0.66" stroke="#a23330" stroke-opacity="0.90"/>
<circle cx="522.2" cy="161.9" r="7.4" fill="#d7706b" fill-opacity="0.66" stroke="#a23330" stroke-opacity="0.90"/>
<circle cx="433.0" cy="239.6" r="7.4" fill="#d7706b" fill-opacity="0.66" stroke="#a23330" stroke-opacity="0.90"/>
<circle cx="384.0" cy="242.4" r="7.4" fill="#d7706b" fill-opacity="0.66" stroke="#a23330" stroke-opacity="0.90"/>
<circle cx="432.3" cy="248.4" r="7.4" fill="#d7706b" fill-opacity="0.66" stroke="#a23330" stroke-opacity="0.90"/>
<circle cx="146.3" cy="47.5" r="7.4" fill="#fd625e" fill-opacity="0.64" stroke="#c62828" stroke-opacity="0.90"/>
<circle cx="113.0" cy="81.0" r="7.4" fill="#fd625e" fill-opacity="0.64" stroke="#c62828" stroke-opacity="0.90"/>
<circle cx="117.3" cy="92.5" r="7.4" fill="#fd625e" fill-opacity="0.64" stroke="#c62828" stroke-opacity="0.90"/>
<circle cx="76.8" cy="91.8" r="7.4" fill="#fd625e" fill-opacity="0.64" stroke="#c62828" stroke-opacity="0.90"/>
<circle cx="74.6" cy="93.2" r="7.4" fill="#fd625e" fill-opacity="0.64" stroke="#c62828" stroke-opacity="0.90"/>
<circle cx="76.8" cy="99.5" r="7.4" fill="#fd625e" fill-opacity="0.64" stroke="#c62828" stroke-opacity="0.90"/>
<circle cx="69.6" cy="100.8" r="7.4" fill="#fd625e" fill-opacity="0.64" stroke="#c62828" stroke-opacity="0.90"/>
<circle cx="71.1" cy="118.9" r="7.4" fill="#fd625e" fill-opacity="0.64" stroke="#c62828" stroke-opacity="0.90"/>
<circle cx="71.9" cy="119.7" r="7.4" fill="#fd625e" fill-opacity="0.64" stroke="#c62828" stroke-opacity="0.90"/>
<circle cx="68.4" cy="138.6" r="7.4" fill="#fd625e" fill-opacity="0.64" stroke="#c62828" stroke-opacity="0.90"/>
<circle cx="69.0" cy="140.0" r="7.4" fill="#fd625e" fill-opacity="0.64" stroke="#c62828" stroke-opacity="0.90"/>
<circle cx="160.7" cy="147.5" r="7.4" fill="#fd625e" fill-opacity="0.64" stroke="#c62828" stroke-opacity="0.90"/>
<circle cx="173.3" cy="150.0" r="7.4" fill="#fd625e" fill-opacity="0.64" stroke="#c62828" stroke-opacity="0.90"/>
<circle cx="167.5" cy="182.4" r="7.4" fill="#fd625e" fill-opacity="0.64" stroke="#c62828" stroke-opacity="0.90"/>
<circle cx="96.6" cy="189.6" r="7.4" fill="#fd625e" fill-opacity="0.64" stroke="#c62828" stroke-opacity="0.90"/>
<circle cx="71.5" cy="201.8" r="7.4" fill="#fd625e" fill-opacity="0.64" stroke="#c62828" stroke-opacity="0.90"/>
<circle cx="83.8" cy="200.0" r="7.4" fill="#fd625e" fill-opacity="0.64" stroke="#c62828" stroke-opacity="0.90"/>
<circle cx="77.6" cy="207.6" r="7.4" fill="#fd625e" fill-opacity="0.64" stroke="#c62828" stroke-opacity="0.90"/>
<circle cx="72.2" cy="212.1" r="7.4" fill="#fd625e" fill-opacity="0.64" stroke="#c62828" stroke-opacity="0.90"/>
<circle cx="76.6" cy="213.9" r="7.4" fill="#fd625e" fill-opacity="0.64" stroke="#c62828" stroke-opacity="0.90"/>
<circle cx="88.1" cy="212.1" r="7.4" fill="#fd625e" fill-opacity="0.64" stroke="#c62828" stroke-opacity="0.90"/>
<circle cx="77.2" cy="208.0" r="7.4" fill="#fd625e" fill-opacity="0.64" stroke="#c62828" stroke-opacity="0.90"/>
<circle cx="76.3" cy="213.2" r="7.4" fill="#fd625e" fill-opacity="0.64" stroke="#c62828" stroke-opacity="0.90"/>
<circle cx="71.1" cy="202.8" r="7.4" fill="#fd625e" fill-opacity="0.64" stroke="#c62828" stroke-opacity="0.90"/>
<circle cx="73.1" cy="205.4" r="7.4" fill="#fd625e" fill-opacity="0.64" stroke="#c62828" stroke-opacity="0.90"/>
<circle cx="98.2" cy="219.9" r="7.4" fill="#fd625e" fill-opacity="0.64" stroke="#c62828" stroke-opacity="0.90"/>
<circle cx="114.8" cy="231.9" r="7.4" fill="#fd625e" fill-opacity="0.64" stroke="#c62828" stroke-opacity="0.90"/>
<circle cx="167.2" cy="236.6" r="7.4" fill="#fd625e" fill-opacity="0.64" stroke="#c62828" stroke-opacity="0.90"/>
<circle cx="210.2" cy="237.9" r="7.4" fill="#fd625e" fill-opacity="0.64" stroke="#c62828" stroke-opacity="0.90"/>
<circle cx="100.2" cy="245.4" r="7.4" fill="#fd625e" fill-opacity="0.64" stroke="#c62828" stroke-opacity="0.90"/>
<circle cx="105.6" cy="246.3" r="7.4" fill="#fd625e" fill-opacity="0.64" stroke="#c62828" stroke-opacity="0.90"/>
<circle cx="109.2" cy="248.1" r="7.4" fill="#fd625e" fill-opacity="0.64" stroke="#c62828" stroke-opacity="0.90"/>
<circle cx="113.7" cy="248.1" r="7.4" fill="#fd625e" fill-opacity="0.64" stroke="#c62828" stroke-opacity="0.90"/>
<circle cx="118.2" cy="249.0" r="7.4" fill="#fd625e" fill-opacity="0.64" stroke="#c62828" stroke-opacity="0.90"/>
<circle cx="107.4" cy="248.2" r="7.4" fill="#fd625e" fill-opacity="0.64" stroke="#c62828" stroke-opacity="0.90"/>
<circle cx="113.3" cy="248.2" r="7.4" fill="#fd625e" fill-opacity="0.64" stroke="#c62828" stroke-opacity="0.90"/>
<circle cx="118.5" cy="248.2" r="7.4" fill="#fd625e" fill-opacity="0.64" stroke="#c62828" stroke-opacity="0.90"/>
<circle cx="118.8" cy="249.4" r="7.4" fill="#fd625e" fill-opacity="0.64" stroke="#c62828" stroke-opacity="0.90"/>
<circle cx="119.1" cy="262.5" r="7.4" fill="#fd625e" fill-opacity="0.64" stroke="#c62828" stroke-opacity="0.90"/>
<circle cx="118.4" cy="261.6" r="7.4" fill="#fd625e" fill-opacity="0.64" stroke="#c62828" stroke-opacity="0.90"/>
<circle cx="141.2" cy="262.1" r="7.4" fill="#fd625e" fill-opacity="0.64" stroke="#c62828" stroke-opacity="0.90"/>
<circle cx="160.5" cy="254.4" r="7.4" fill="#fd625e" fill-opacity="0.64" stroke="#c62828" stroke-opacity="0.90"/>
<circle cx="164.1" cy="254.4" r="7.4" fill="#fd625e" fill-opacity="0.64" stroke="#c62828" stroke-opacity="0.90"/>
<circle cx="167.7" cy="254.4" r="7.4" fill="#fd625e" fill-opacity="0.64" stroke="#c62828" stroke-opacity="0.90"/>
<circle cx="164.1" cy="257.1" r="7.4" fill="#fd625e" fill-opacity="0.64" stroke="#c62828" stroke-opacity="0.90"/>
<circle cx="165.9" cy="260.7" r="7.4" fill="#fd625e" fill-opacity="0.64" stroke="#c62828" stroke-opacity="0.90"/>
<circle cx="173.1" cy="267.0" r="7.4" fill="#fd625e" fill-opacity="0.64" stroke="#c62828" stroke-opacity="0.90"/>
<circle cx="179.0" cy="274.6" r="7.4" fill="#fd625e" fill-opacity="0.64" stroke="#c62828" stroke-opacity="0.90"/>
<circle cx="224.3" cy="185.4" r="7.4" fill="#fd625e" fill-opacity="0.64" stroke="#c62828" stroke-opacity="0.90"/>
<circle cx="226.2" cy="189.1" r="7.4" fill="#fd625e" fill-opacity="0.64" stroke="#c62828" stroke-opacity="0.90"/>
<circle cx="214.9" cy="190.2" r="7.4" fill="#fd625e" fill-opacity="0.64" stroke="#c62828" stroke-opacity="0.90"/>
<circle cx="216.0" cy="200.4" r="7.4" fill="#fd625e" fill-opacity="0.64" stroke="#c62828" stroke-opacity="0.90"/>
<circle cx="227.3" cy="203.0" r="7.4" fill="#fd625e" fill-opacity="0.64" stroke="#c62828" stroke-opacity="0.90"/>
<circle cx="323.1" cy="125.3" r="7.4" fill="#fd625e" fill-opacity="0.64" stroke="#c62828" stroke-opacity="0.90"/>
<circle cx="325.8" cy="127.1" r="7.4" fill="#fd625e" fill-opacity="0.64" stroke="#c62828" stroke-opacity="0.90"/>
<circle cx="329.0" cy="126.6" r="7.4" fill="#fd625e" fill-opacity="0.64" stroke="#c62828" stroke-opacity="0.90"/>
<circle cx="320.4" cy="153.7" r="7.4" fill="#fd625e" fill-opacity="0.64" stroke="#c62828" stroke-opacity="0.90"/>
<circle cx="340.6" cy="164.9" r="7.4" fill="#fd625e" fill-opacity="0.64" stroke="#c62828" stroke-opacity="0.90"/>
<circle cx="356.4" cy="176.6" r="7.4" fill="#fd625e" fill-opacity="0.64" stroke="#c62828" stroke-opacity="0.90"/>
<circle cx="358.4" cy="177.0" r="7.4" fill="#fd625e" fill-opacity="0.64" stroke="#c62828" stroke-opacity="0.90"/>
<circle cx="366.4" cy="141.8" r="7.4" fill="#fd625e" fill-opacity="0.64" stroke="#c62828" stroke-opacity="0.90"/>
<circle cx="305.1" cy="194.9" r="7.4" fill="#fd625e" fill-opacity="0.64" stroke="#c62828" stroke-opacity="0.90"/>
<circle cx="347.4" cy="197.4" r="7.4" fill="#fd625e" fill-opacity="0.64" stroke="#c62828" stroke-opacity="0.90"/>
<circle cx="352.1" cy="196.4" r="7.4" fill="#fd625e" fill-opacity="0.64" stroke="#c62828" stroke-opacity="0.90"/>
<circle cx="353.1" cy="199.9" r="7.4" fill="#fd625e" fill-opacity="0.64" stroke="#c62828" stroke-opacity="0.90"/>
<circle cx="350.1" cy="205.4" r="7.4" fill="#fd625e" fill-opacity="0.64" stroke="#c62828" stroke-opacity="0.90"/>
<circle cx="325.8" cy="218.1" r="7.4" fill="#fd625e" fill-opacity="0.64" stroke="#c62828" stroke-opacity="0.90"/>
<circle cx="327.2" cy="226.2" r="7.4" fill="#fd625e" fill-opacity="0.64" stroke="#c62828" stroke-opacity="0.90"/>
<circle cx="301.1" cy="228.0" r="7.4" fill="#fd625e" fill-opacity="0.64" stroke="#c62828" stroke-opacity="0.90"/>
<circle cx="297.9" cy="237.0" r="7.4" fill="#fd625e" fill-opacity="0.64" stroke="#c62828" stroke-opacity="0.90"/>
<circle cx="282.1" cy="239.7" r="7.4" fill="#fd625e" fill-opacity="0.64" stroke="#c62828" stroke-opacity="0.90"/>
<circle cx="333.9" cy="242.0" r="7.4" fill="#fd625e" fill-opacity="0.64" stroke="#c62828" stroke-opacity="0.90"/>
<circle cx="335.1" cy="240.9" r="7.4" fill="#fd625e" fill-opacity="0.64" stroke="#c62828" stroke-opacity="0.90"/>
<circle cx="356.4" cy="226.2" r="7.4" fill="#fd625e" fill-opacity="0.64" stroke="#c62828" stroke-opacity="0.90"/>
<circle cx="353.7" cy="238.8" r="7.4" fill="#fd625e" fill-opacity="0.64" stroke="#c62828" stroke-opacity="0.90"/>
<circle cx="337.0" cy="259.2" r="7.4" fill="#fd625e" fill-opacity="0.64" stroke="#c62828" stroke-opacity="0.90"/>
<circle cx="297.9" cy="251.4" r="7.4" fill="#fd625e" fill-opacity="0.64" stroke="#c62828" stroke-opacity="0.90"/>
<circle cx="291.6" cy="259.5" r="7.4" fill="#fd625e" fill-opacity="0.64" stroke="#c62828" stroke-opacity="0.90"/>
<circle cx="297.0" cy="257.7" r="7.4" fill="#fd625e" fill-opacity="0.64" stroke="#c62828" stroke-opacity="0.90"/>
<circle cx="297.9" cy="261.3" r="7.4" fill="#fd625e" fill-opacity="0.64" stroke="#c62828" stroke-opacity="0.90"/>
<circle cx="293.4" cy="264.9" r="7.4" fill="#fd625e" fill-opacity="0.64" stroke="#c62828" stroke-opacity="0.90"/>
<circle cx="305.5" cy="272.0" r="7.4" fill="#fd625e" fill-opacity="0.64" stroke="#c62828" stroke-opacity="0.90"/>
<circle cx="286.9" cy="278.3" r="7.4" fill="#fd625e" fill-opacity="0.64" stroke="#c62828" stroke-opacity="0.90"/>
<circle cx="289.8" cy="283.7" r="7.4" fill="#fd625e" fill-opacity="0.64" stroke="#c62828" stroke-opacity="0.90"/>
<circle cx="299.4" cy="283.7" r="7.4" fill="#fd625e" fill-opacity="0.64" stroke="#c62828" stroke-opacity="0.90"/>
<circle cx="282.1" cy="294.4" r="7.4" fill="#fd625e" fill-opacity="0.64" stroke="#c62828" stroke-opacity="0.90"/>
<circle cx="281.6" cy="295.3" r="7.4" fill="#fd625e" fill-opacity="0.64" stroke="#c62828" stroke-opacity="0.90"/>
<circle cx="306.8" cy="288.1" r="7.4" fill="#fd625e" fill-opacity="0.64" stroke="#c62828" stroke-opacity="0.90"/>
<circle cx="307.3" cy="289.0" r="7.4" fill="#fd625e" fill-opacity="0.64" stroke="#c62828" stroke-opacity="0.90"/>
<circle cx="312.7" cy="297.1" r="7.4" fill="#fd625e" fill-opacity="0.64" stroke="#c62828" stroke-opacity="0.90"/>
<circle cx="271.8" cy="314.6" r="7.4" fill="#fd625e" fill-opacity="0.64" stroke="#c62828" stroke-opacity="0.90"/>
<circle cx="336.4" cy="287.8" r="7.4" fill="#fd625e" fill-opacity="0.64" stroke="#c62828" stroke-opacity="0.90"/>
<circle cx="346.4" cy="287.5" r="7.4" fill="#fd625e" fill-opacity="0.64" stroke="#c62828" stroke-opacity="0.90"/>
<circle cx="366.0" cy="286.0" r="7.4" fill="#fd625e" fill-opacity="0.64" stroke="#c62828" stroke-opacity="0.90"/>
<circle cx="370.4" cy="284.0" r="7.4" fill="#fd625e" fill-opacity="0.64" stroke="#c62828" stroke-opacity="0.90"/>
<circle cx="373.1" cy="283.2" r="7.4" fill="#fd625e" fill-opacity="0.64" stroke="#c62828" stroke-opacity="0.90"/>
<circle cx="363.6" cy="285.4" r="7.4" fill="#fd625e" fill-opacity="0.64" stroke="#c62828" stroke-opacity="0.90"/>
<circle cx="385.8" cy="266.2" r="7.4" fill="#fd625e" fill-opacity="0.64" stroke="#c62828" stroke-opacity="0.90"/>
<circle cx="407.9" cy="263.6" r="7.4" fill="#fd625e" fill-opacity="0.64" stroke="#c62828" stroke-opacity="0.90"/>
<circle cx="399.2" cy="120.2" r="7.4" fill="#fd625e" fill-opacity="0.64" stroke="#c62828" stroke-opacity="0.90"/>
<circle cx="386.1" cy="146.4" r="7.4" fill="#fd625e" fill-opacity="0.64" stroke="#c62828" stroke-opacity="0.90"/>
<circle cx="408.6" cy="145.0" r="7.4" fill="#fd625e" fill-opacity="0.64" stroke="#c62828" stroke-opacity="0.90"/>
<circle cx="400.1" cy="149.5" r="7.4" fill="#fd625e" fill-opacity="0.64" stroke="#c62828" stroke-opacity="0.90"/>
<circle cx="403.7" cy="150.4" r="7.4" fill="#fd625e" fill-opacity="0.64" stroke="#c62828" stroke-opacity="0.90"/>
<circle cx="408.2" cy="156.7" r="7.4" fill="#fd625e" fill-opacity="0.64" stroke="#c62828" stroke-opacity="0.90"/>
<circle cx="414.5" cy="154.9" r="7.4" fill="#fd625e" fill-opacity="0.64" stroke="#c62828" stroke-opacity="0.90"/>
<circle cx="417.2" cy="155.8" r="7.4" fill="#fd625e" fill-opacity="0.64" stroke="#c62828" stroke-opacity="0.90"/>
<circle cx="392.0" cy="158.5" r="7.4" fill="#fd625e" fill-opacity="0.64" stroke="#c62828" stroke-opacity="0.90"/>
<circle cx="394.5" cy="170.4" r="7.4" fill="#fd625e" fill-opacity="0.64" stroke="#c62828" stroke-opacity="0.90"/>
<circle cx="363.6" cy="161.6" r="7.4" fill="#fd625e" fill-opacity="0.64" stroke="#c62828" stroke-opacity="0.90"/>
<circle cx="369.1" cy="161.7" r="7.4" fill="#fd625e" fill-opacity="0.64" stroke="#c62828" stroke-opacity="0.90"/>
<circle cx="441.5" cy="143.2" r="7.4" fill="#fd625e" fill-opacity="0.64" stroke="#c62828" stroke-opacity="0.90"/>
<circle cx="446.0" cy="142.3" r="7.4" fill="#fd625e" fill-opacity="0.64" stroke="#c62828" stroke-opacity="0.90"/>
<circle cx="451.4" cy="147.7" r="7.4" fill="#fd625e" fill-opacity="0.64" stroke="#c62828" stroke-opacity="0.90"/>
<circle cx="461.1" cy="147.9" r="7.4" fill="#fd625e" fill-opacity="0.64" stroke="#c62828" stroke-opacity="0.90"/>
<circle cx="439.7" cy="159.7" r="7.4" fill="#fd625e" fill-opacity="0.64" stroke="#c62828" stroke-opacity="0.90"/>
<circle cx="427.6" cy="165.9" r="7.4" fill="#fd625e" fill-opacity="0.64" stroke="#c62828" stroke-opacity="0.90"/>
<circle cx="477.8" cy="120.4" r="7.4" fill="#fd625e" fill-opacity="0.64" stroke="#c62828" stroke-opacity="0.90"/>
<circle cx="498.3" cy="120.2" r="7.4" fill="#fd625e" fill-opacity="0.64" stroke="#c62828" stroke-opacity="0.90"/>
<circle cx="486.9" cy="150.4" r="7.4" fill="#fd625e" fill-opacity="0.64" stroke="#c62828" stroke-opacity="0.90"/>
<circle cx="494.4" cy="153.2" r="7.4" fill="#fd625e" fill-opacity="0.64" stroke="#c62828" stroke-opacity="0.90"/>
<circle cx="485.6" cy="164.4" r="7.4" fill="#fd625e" fill-opacity="0.64" stroke="#c62828" stroke-opacity="0.90"/>
<circle cx="406.5" cy="182.4" r="7.4" fill="#fd625e" fill-opacity="0.64" stroke="#c62828" stroke-opacity="0.90"/>
<circle cx="437.9" cy="192.6" r="7.4" fill="#fd625e" fill-opacity="0.64" stroke="#c62828" stroke-opacity="0.90"/>
<circle cx="398.8" cy="192.5" r="7.4" fill="#fd625e" fill-opacity="0.64" stroke="#c62828" stroke-opacity="0.90"/>
<circle cx="408.3" cy="198.8" r="7.4" fill="#fd625e" fill-opacity="0.64" stroke="#c62828" stroke-opacity="0.90"/>
<circle cx="397.5" cy="205.1" r="7.4" fill="#fd625e" fill-opacity="0.64" stroke="#c62828" stroke-opacity="0.90"/>
<circle cx="402.0" cy="206.0" r="7.4" fill="#fd625e" fill-opacity="0.64" stroke="#c62828" stroke-opacity="0.90"/>
<circle cx="366.9" cy="194.3" r="7.4" fill="#fd625e" fill-opacity="0.64" stroke="#c62828" stroke-opacity="0.90"/>
<circle cx="375.0" cy="206.5" r="7.4" fill="#fd625e" fill-opacity="0.64" stroke="#c62828" stroke-opacity="0.90"/>
<circle cx="461.4" cy="191.9" r="7.4" fill="#fd625e" fill-opacity="0.64" stroke="#c62828" stroke-opacity="0.90"/>
<circle cx="464.1" cy="193.9" r="7.4" fill="#fd625e" fill-opacity="0.64" stroke="#c62828" stroke-opacity="0.90"/>
<circle cx="467.1" cy="193.7" r="7.4" fill="#fd625e" fill-opacity="0.64" stroke="#c62828" stroke-opacity="0.90"/>
<circle cx="469.6" cy="192.9" r="7.4" fill="#fd625e" fill-opacity="0.64" stroke="#c62828" stroke-opacity="0.90"/>
<circle cx="471.7" cy="188.7" r="7.4" fill="#fd625e" fill-opacity="0.64" stroke="#c62828" stroke-opacity="0.90"/>
<circle cx="475.9" cy="178.4" r="7.4" fill="#fd625e" fill-opacity="0.64" stroke="#c62828" stroke-opacity="0.90"/>
<circle cx="473.7" cy="180.6" r="7.4" fill="#fd625e" fill-opacity="0.64" stroke="#c62828" stroke-opacity="0.90"/>
<circle cx="472.2" cy="171.8" r="7.4" fill="#fd625e" fill-opacity="0.64" stroke="#c62828" stroke-opacity="0.90"/>
<circle cx="480.5" cy="185.8" r="7.4" fill="#fd625e" fill-opacity="0.64" stroke="#c62828" stroke-opacity="0.90"/>
<circle cx="483.3" cy="185.7" r="7.4" fill="#fd625e" fill-opacity="0.64" stroke="#c62828" stroke-opacity="0.90"/>
<circle cx="485.1" cy="194.6" r="7.4" fill="#fd625e" fill-opacity="0.64" stroke="#c62828" stroke-opacity="0.90"/>
<circle cx="483.9" cy="184.4" r="7.4" fill="#fd625e" fill-opacity="0.64" stroke="#c62828" stroke-opacity="0.90"/>
<circle cx="515.2" cy="151.8" r="7.4" fill="#fd625e" fill-opacity="0.64" stroke="#c62828" stroke-opacity="0.90"/>
<circle cx="519.3" cy="154.8" r="7.4" fill="#fd625e" fill-opacity="0.64" stroke="#c62828" stroke-opacity="0.90"/>
<circle cx="511.2" cy="158.5" r="7.4" fill="#fd625e" fill-opacity="0.64" stroke="#c62828" stroke-opacity="0.90"/>
<circle cx="514.9" cy="163.6" r="7.4" fill="#fd625e" fill-opacity="0.64" stroke="#c62828" stroke-opacity="0.90"/>
<circle cx="520.8" cy="158.5" r="7.4" fill="#fd625e" fill-opacity="0.64" stroke="#c62828" stroke-opacity="0.90"/>
<circle cx="498.7" cy="166.6" r="7.4" fill="#fd625e" fill-opacity="0.64" stroke="#c62828" stroke-opacity="0.90"/>
<circle cx="501.7" cy="168.8" r="7.4" fill="#fd625e" fill-opacity="0.64" stroke="#c62828" stroke-opacity="0.90"/>
<circle cx="500.9" cy="173.2" r="7.4" fill="#fd625e" fill-opacity="0.64" stroke="#c62828" stroke-opacity="0.90"/>
<circle cx="495.8" cy="171.7" r="7.4" fill="#fd625e" fill-opacity="0.64" stroke="#c62828" stroke-opacity="0.90"/>
<circle cx="492.1" cy="173.9" r="7.4" fill="#fd625e" fill-opacity="0.64" stroke="#c62828" stroke-opacity="0.90"/>
<circle cx="489.9" cy="177.6" r="7.4" fill="#fd625e" fill-opacity="0.64" stroke="#c62828" stroke-opacity="0.90"/>
<circle cx="489.2" cy="175.4" r="7.4" fill="#fd625e" fill-opacity="0.64" stroke="#c62828" stroke-opacity="0.90"/>
<circle cx="503.7" cy="175.4" r="7.4" fill="#fd625e" fill-opacity="0.64" stroke="#c62828" stroke-opacity="0.90"/>
<circle cx="508.2" cy="159.2" r="7.4" fill="#fd625e" fill-opacity="0.64" stroke="#c62828" stroke-opacity="0.90"/>
<circle cx="495.6" cy="170.0" r="7.4" fill="#fd625e" fill-opacity="0.64" stroke="#c62828" stroke-opacity="0.90"/>
<circle cx="501.0" cy="167.3" r="7.4" fill="#fd625e" fill-opacity="0.64" stroke="#c62828" stroke-opacity="0.90"/>
<circle cx="489.1" cy="174.4" r="7.4" fill="#fd625e" fill-opacity="0.64" stroke="#c62828" stroke-opacity="0.90"/>
<circle cx="491.6" cy="177.9" r="7.4" fill="#fd625e" fill-opacity="0.64" stroke="#c62828" stroke-opacity="0.90"/>
<circle cx="498.6" cy="166.4" r="7.4" fill="#fd625e" fill-opacity="0.64" stroke="#c62828" stroke-opacity="0.90"/>
<circle cx="501.1" cy="168.9" r="7.4" fill="#fd625e" fill-opacity="0.64" stroke="#c62828" stroke-opacity="0.90"/>
<circle cx="464.6" cy="192.9" r="7.4" fill="#fd625e" fill-opacity="0.64" stroke="#c62828" stroke-opacity="0.90"/>
<circle cx="468.1" cy="193.9" r="7.4" fill="#fd625e" fill-opacity="0.64" stroke="#c62828" stroke-opacity="0.90"/>
<circle cx="463.2" cy="211.7" r="7.4" fill="#fd625e" fill-opacity="0.64" stroke="#c62828" stroke-opacity="0.90"/>
<circle cx="475.2" cy="219.2" r="7.4" fill="#fd625e" fill-opacity="0.64" stroke="#c62828" stroke-opacity="0.90"/>
<circle cx="449.6" cy="217.8" r="7.4" fill="#fd625e" fill-opacity="0.64" stroke="#c62828" stroke-opacity="0.90"/>
<circle cx="447.4" cy="220.4" r="7.4" fill="#fd625e" fill-opacity="0.64" stroke="#c62828" stroke-opacity="0.90"/>
<circle cx="442.8" cy="225.2" r="7.4" fill="#fd625e" fill-opacity="0.64" stroke="#c62828" stroke-opacity="0.90"/>
<circle cx="451.6" cy="231.3" r="7.4" fill="#fd625e" fill-opacity="0.64" stroke="#c62828" stroke-opacity="0.90"/>
<circle cx="406.5" cy="217.7" r="7.4" fill="#fd625e" fill-opacity="0.64" stroke="#c62828" stroke-opacity="0.90"/>
<circle cx="406.1" cy="225.4" r="7.4" fill="#fd625e" fill-opacity="0.64" stroke="#c62828" stroke-opacity="0.90"/>
<circle cx="411.1" cy="228.2" r="7.4" fill="#fd625e" fill-opacity="0.64" stroke="#c62828" stroke-opacity="0.90"/>
<circle cx="383.4" cy="224.9" r="7.4" fill="#fd625e" fill-opacity="0.64" stroke="#c62828" stroke-opacity="0.90"/>
<circle cx="381.1" cy="229.4" r="7.4" fill="#fd625e" fill-opacity="0.64" stroke="#c62828" stroke-opacity="0.90"/>
<circle cx="430.4" cy="233.7" r="7.4" fill="#fd625e" fill-opacity="0.64" stroke="#c62828" stroke-opacity="0.90"/>
<circle cx="431.1" cy="236.2" r="7.4" fill="#fd625e" fill-opacity="0.64" stroke="#c62828" stroke-opacity="0.90"/>
<circle cx="435.2" cy="233.7" r="7.4" fill="#fd625e" fill-opacity="0.64" stroke="#c62828" stroke-opacity="0.90"/>
<circle cx="427.2" cy="238.4" r="7.4" fill="#fd625e" fill-opacity="0.64" stroke="#c62828" stroke-opacity="0.90"/>
<circle cx="421.2" cy="241.9" r="7.4" fill="#fd625e" fill-opacity="0.64" stroke="#c62828" stroke-opacity="0.90"/>
<circle cx="396.8" cy="240.7" r="7.4" fill="#fd625e" fill-opacity="0.64" stroke="#c62828" stroke-opacity="0.90"/>
<circle cx="411.8" cy="242.7" r="7.4" fill="#fd625e" fill-opacity="0.64" stroke="#c62828" stroke-opacity="0.90"/>
<circle cx="389.6" cy="252.4" r="7.4" fill="#fd625e" fill-opacity="0.64" stroke="#c62828" stroke-opacity="0.90"/>
<circle cx="399.8" cy="249.9" r="7.4" fill="#fd625e" fill-opacity="0.64" stroke="#c62828" stroke-opacity="0.90"/>
<circle cx="401.6" cy="251.2" r="7.4" fill="#fd625e" fill-opacity="0.64" stroke="#c62828" stroke-opacity="0.90"/>
<circle cx="408.7" cy="247.0" r="7.4" fill="#fd625e" fill-opacity="0.64" stroke="#c62828" stroke-opacity="0.90"/>
<circle cx="421.8" cy="251.0" r="7.4" fill="#fd625e" fill-opacity="0.64" stroke="#c62828" stroke-opacity="0.90"/>
<circle cx="421.2" cy="255.1" r="7.4" fill="#fd625e" fill-opacity="0.64" stroke="#c62828" stroke-opacity="0.90"/>
<circle cx="420.5" cy="255.8" r="7.4" fill="#fd625e" fill-opacity="0.64" stroke="#c62828" stroke-opacity="0.90"/>
<circle cx="436.2" cy="256.4" r="7.4" fill="#fd625e" fill-opacity="0.64" stroke="#c62828" stroke-opacity="0.90"/>
<circle cx="458.4" cy="246.6" r="7.4" fill="#fd625e" fill-opacity="0.64" stroke="#c62828" stroke-opacity="0.90"/>
<circle cx="441.1" cy="261.2" r="7.4" fill="#fd625e" fill-opacity="0.64" stroke="#c62828" stroke-opacity="0.90"/>
<circle cx="442.6" cy="262.2" r="7.4" fill="#fd625e" fill-opacity="0.64" stroke="#c62828" stroke-opacity="0.90"/>
<circle cx="430.8" cy="269.1" r="7.4" fill="#fd625e" fill-opacity="0.64" stroke="#c62828" stroke-opacity="0.90"/>
<circle cx="425.1" cy="272.7" r="7.4" fill="#fd625e" fill-opacity="0.64" stroke="#c62828" stroke-opacity="0.90"/>
<circle cx="411.8" cy="281.6" r="7.4" fill="#fd625e" fill-opacity="0.64" stroke="#c62828" stroke-opacity="0.90"/>
<circle cx="420.9" cy="292.4" r="7.4" fill="#fd625e" fill-opacity="0.64" stroke="#c62828" stroke-opacity="0.90"/>
<circle cx="427.2" cy="292.4" r="7.4" fill="#fd625e" fill-opacity="0.64" stroke="#c62828" stroke-opacity="0.90"/>
<circle cx="421.8" cy="297.8" r="7.4" fill="#fd625e" fill-opacity="0.64" stroke="#c62828" stroke-opacity="0.90"/>
<circle cx="429.0" cy="304.1" r="7.4" fill="#fd625e" fill-opacity="0.64" stroke="#c62828" stroke-opacity="0.90"/>
<circle cx="435.3" cy="306.4" r="7.4" fill="#fd625e" fill-opacity="0.64" stroke="#c62828" stroke-opacity="0.90"/>
<circle cx="423.6" cy="305.9" r="7.4" fill="#fd625e" fill-opacity="0.64" stroke="#c62828" stroke-opacity="0.90"/>
<circle cx="422.6" cy="298.9" r="7.4" fill="#fd625e" fill-opacity="0.64" stroke="#c62828" stroke-opacity="0.90"/>
<circle cx="427.6" cy="304.4" r="7.4" fill="#fd625e" fill-opacity="0.64" stroke="#c62828" stroke-opacity="0.90"/>
<circle cx="415.5" cy="308.6" r="7.4" fill="#fd625e" fill-opacity="0.64" stroke="#c62828" stroke-opacity="0.90"/>
<circle cx="439.4" cy="322.1" r="7.4" fill="#fd625e" fill-opacity="0.64" stroke="#c62828" stroke-opacity="0.90"/>
<circle cx="439.2" cy="322.3" r="7.4" fill="#fd625e" fill-opacity="0.64" stroke="#c62828" stroke-opacity="0.90"/>
<circle cx="439.6" cy="321.9" r="7.4" fill="#fd625e" fill-opacity="0.64" stroke="#c62828" stroke-opacity="0.90"/>
<circle cx="438.9" cy="328.4" r="7.4" fill="#fd625e" fill-opacity="0.64" stroke="#c62828" stroke-opacity="0.90"/>
<circle cx="439.3" cy="330.2" r="7.4" fill="#fd625e" fill-opacity="0.64" stroke="#c62828" stroke-opacity="0.90"/>
<circle cx="439.1" cy="329.2" r="7.4" fill="#fd625e" fill-opacity="0.64" stroke="#c62828" stroke-opacity="0.90"/>
<circle cx="439.0" cy="329.6" r="7.4" fill="#fd625e" fill-opacity="0.64" stroke="#c62828" stroke-opacity="0.90"/>
<circle cx="550.9" cy="400.7" r="7.4" fill="#fd625e" fill-opacity="0.64" stroke="#c62828" stroke-opacity="0.90"/>
<circle cx="560.3" cy="399.2" r="7.4" fill="#fd625e" fill-opacity="0.64" stroke="#c62828" stroke-opacity="0.90"/>
</g>
</svg>
<div class="abs" style="left:857.9px;top:128px;width:19.3px;height:16.9px;background:#fff"></div>
<div class="abs" style="left:880px;top:128px;width:17.1px;height:16.9px;background:#fff"></div>
<svg class="abs" style="left:858px;top:128px" width="40" height="16" viewBox="858 128 40 16" fill="none" stroke="#8a8a8a" stroke-width="0.9"><path d="M861.4 130.5 H873.7 L868.6 136.4 V141.4 H866.4 V136.4 Z"/><path d="M889.5 132.6 H884.7 V141.4 H895.5 V137.2 M884.7 137.6 H889.3 V141.4 M891.2 132.4 H895.6 V136.4 M895.4 132.6 L890.2 137.4"/></svg>
<!-- bar chart -->
<div class="lbl" style="left:904.5px;top:136.4px;font-size:9px;color:#c4c4c4">出单时间分布</div>
<svg class="abs" style="left:900px;top:150px" width="585" height="135" viewBox="900 150 585 135" font-family="Liberation Sans, sans-serif"><line x1="921" x2="1474" y1="192.3" y2="192.3" stroke="#eaeaea" stroke-width="1"/><line x1="921" x2="1474" y1="263.8" y2="263.8" stroke="#eaeaea" stroke-width="1"/><rect x="930.0" y="217.2" width="17.8" height="46.3" fill="#01b8aa"/><text x="938.9" y="274" font-size="7.6" fill="#777" text-anchor="middle">0</text><rect x="952.5" y="202.9" width="17.8" height="60.6" fill="#01b8aa"/><text x="961.4" y="274" font-size="7.6" fill="#777" text-anchor="middle">1</text><rect x="975.0" y="224.3" width="17.8" height="39.2" fill="#01b8aa"/><text x="983.9" y="274" font-size="7.6" fill="#777" text-anchor="middle">2</text><rect x="997.5" y="167.2" width="17.8" height="96.3" fill="#01b8aa"/><text x="1006.4" y="274" font-size="7.6" fill="#777" text-anchor="middle">3</text><rect x="1020.0" y="202.9" width="17.8" height="60.6" fill="#01b8aa"/><text x="1028.9" y="274" font-size="7.6" fill="#777" text-anchor="middle">4</text><rect x="1042.5" y="163.7" width="17.8" height="99.8" fill="#01b8aa"/><text x="1051.4" y="274" font-size="7.6" fill="#777" text-anchor="middle">5</text><rect x="1065.0" y="170.8" width="17.8" height="92.7" fill="#01b8aa"/><text x="1073.9" y="274" font-size="7.6" fill="#777" text-anchor="middle">6</text><rect x="1087.5" y="174.4" width="17.8" height="89.1" fill="#01b8aa"/><text x="1096.4" y="274" font-size="7.6" fill="#777" text-anchor="middle">7</text><rect x="1110.0" y="167.2" width="17.8" height="96.3" fill="#01b8aa"/><text x="1118.9" y="274" font-size="7.6" fill="#777" text-anchor="middle">8</text><rect x="1132.5" y="174.4" width="17.8" height="89.1" fill="#01b8aa"/><text x="1141.4" y="274" font-size="7.6" fill="#777" text-anchor="middle">9</text><rect x="1155.0" y="177.9" width="17.8" height="85.6" fill="#01b8aa"/><text x="1163.9" y="274" font-size="7.6" fill="#777" text-anchor="middle">10</text><rect x="1177.5" y="160.1" width="17.8" height="103.4" fill="#01b8aa"/><text x="1186.4" y="274" font-size="7.6" fill="#777" text-anchor="middle">11</text><rect x="1200.0" y="185.1" width="17.8" height="78.4" fill="#01b8aa"/><text x="1208.9" y="274" font-size="7.6" fill="#777" text-anchor="middle">12</text><rect x="1222.5" y="210.0" width="17.8" height="53.5" fill="#01b8aa"/><text x="1231.4" y="274" font-size="7.6" fill="#777" text-anchor="middle">13</text><rect x="1245.0" y="235.0" width="17.8" height="28.5" fill="#01b8aa"/><text x="1253.9" y="274" font-size="7.6" fill="#777" text-anchor="middle">14</text><rect x="1267.5" y="245.7" width="17.8" height="17.8" fill="#01b8aa"/><text x="1276.4" y="274" font-size="7.6" fill="#777" text-anchor="middle">15</text><rect x="1290.0" y="238.5" width="17.8" height="25.0" fill="#01b8aa"/><text x="1298.9" y="274" font-size="7.6" fill="#777" text-anchor="middle">16</text><rect x="1312.5" y="242.1" width="17.8" height="21.4" fill="#01b8aa"/><text x="1321.4" y="274" font-size="7.6" fill="#777" text-anchor="middle">17</text><rect x="1335.0" y="245.7" width="17.8" height="17.8" fill="#01b8aa"/><text x="1343.9" y="274" font-size="7.6" fill="#777" text-anchor="middle">18</text><rect x="1357.5" y="227.8" width="17.8" height="35.6" fill="#01b8aa"/><text x="1366.4" y="274" font-size="7.6" fill="#777" text-anchor="middle">19</text><rect x="1380.0" y="202.9" width="17.8" height="60.6" fill="#01b8aa"/><text x="1388.9" y="274" font-size="7.6" fill="#777" text-anchor="middle">20</text><rect x="1402.5" y="213.6" width="17.8" height="49.9" fill="#01b8aa"/><text x="1411.4" y="274" font-size="7.6" fill="#777" text-anchor="middle">21</text><rect x="1425.0" y="195.8" width="17.8" height="67.7" fill="#01b8aa"/><text x="1433.9" y="274" font-size="7.6" fill="#777" text-anchor="middle">22</text><rect x="1447.5" y="206.5" width="17.8" height="57.0" fill="#01b8aa"/><text x="1456.4" y="274" font-size="7.6" fill="#777" text-anchor="middle">23</text><text x="913" y="194.8" font-size="7.6" fill="#777" text-anchor="end">20</text><text x="913" y="266.3" font-size="7.6" fill="#777" text-anchor="end">0</text></svg>
<div class="lbl" style="left:939.5px;top:288px;font-size:9px;color:#c4c4c4">出单集中洲</div>
<div class="lbl" style="left:1195.5px;top:288px;font-size:9px;color:#c4c4c4">是否企业买家</div>
<svg class="abs" style="left:900px;top:320px" width="585" height="250" viewBox="900 320 585 250" font-family="Liberation Sans, sans-serif" font-size="8" fill="#777"><path d="M1064.10 445.70 L1064.10 371.50 A74.20 74.20 0 0 1 1137.17 432.82 Z" fill="#01b8aa"/><path d="M1064.10 445.70 L1137.17 432.82 A74.20 74.20 0 0 1 1115.35 499.35 Z" fill="#374649"/><path d="M1064.10 445.70 L1115.35 499.35 A74.20 74.20 0 0 1 1053.57 519.15 Z" fill="#fd625e"/><path d="M1064.10 445.70 L1053.57 519.15 A74.20 74.20 0 0 1 1015.68 501.92 Z" fill="#f2c80f"/><path d="M1064.10 445.70 L1015.68 501.92 A74.20 74.20 0 0 1 998.02 479.44 Z" fill="#5f6b6d"/><path d="M1064.10 445.70 L998.02 479.44 A74.20 74.20 0 0 1 990.16 451.95 Z" fill="#8ad4eb"/><path d="M1064.10 445.70 L990.16 451.95 A74.20 74.20 0 0 1 992.74 425.37 Z" fill="#fe9666"/><path d="M1064.10 445.70 L992.74 425.37 A74.20 74.20 0 0 1 1003.44 402.96 Z" fill="#a66999"/><path d="M1064.10 445.70 L1003.44 402.96 A74.20 74.20 0 0 1 1020.94 385.35 Z" fill="#3599b8"/><path d="M1064.10 445.70 L1020.94 385.35 A74.20 74.20 0 0 1 1041.43 375.05 Z" fill="#dfbfbf"/><path d="M1064.10 445.70 L1041.43 375.05 A74.20 74.20 0 0 1 1064.10 371.50 Z" fill="#4ac5bb"/><circle cx="1334.7" cy="445.6" r="87.6" fill="#01b8aa"/><path d="M1334.70 445.60 L1327.94 358.26 A87.60 87.60 0 0 1 1334.70 358.00 Z" fill="#374649"/><text x="1129.3" y="384.7" text-anchor="start" font-size="7.7">CA 22.22%</text><polyline points="1116.5,387.0 1122.2,382.0 1126.7,382.0" fill="none" stroke="#9a9a9a" stroke-width="0.8"/><text x="1155.6" y="469.6" text-anchor="start" font-size="7.7">FL</text><text x="1155.6" y="477.8" text-anchor="start" font-size="7.7">15.64%</text><polyline points="1139.1,466.1 1147.0,470.4 1151.9,470.4" fill="none" stroke="#9a9a9a" stroke-width="0.8"/><text x="1101.4" y="526.9" text-anchor="start" font-size="7.7">TX 14.4%</text><polyline points="1086.9,516.3 1089.6,524.2 1097.8,524.2" fill="none" stroke="#9a9a9a" stroke-width="0.8"/><text x="1017.0" y="523.7" text-anchor="end" font-size="7.7">NY 9.05%</text><polyline points="1033.9,512.4 1029.9,521.0 1020.9,521.0" fill="none" stroke="#9a9a9a" stroke-width="0.8"/><text x="991.5" y="505.3" text-anchor="end" font-size="7.7">CO 6.17%</text><polyline points="1008.4,496.7 1004.4,502.6 994.6,502.6" fill="none" stroke="#9a9a9a" stroke-width="0.8"/><text x="969.5" y="466.8" text-anchor="end" font-size="7.7">NJ</text><text x="971.0" y="475.1" text-anchor="end" font-size="7.7">6.17%</text><polyline points="992.6,465.3 982.8,468.4 975.0,468.4" fill="none" stroke="#9a9a9a" stroke-width="0.8"/><text x="969.0" y="436.6" text-anchor="end" font-size="7.7">IL</text><text x="969.1" y="444.8" text-anchor="end" font-size="7.7">5.76%</text><polyline points="990.7,437.8 973.0,437.8" fill="none" stroke="#9a9a9a" stroke-width="0.8"/><text x="976.5" y="407.9" text-anchor="end" font-size="7.7">AZ</text><text x="976.2" y="416.9" text-anchor="end" font-size="7.7">5.35%</text><polyline points="994.6,414.2 986.8,409.5 980.9,409.5" fill="none" stroke="#9a9a9a" stroke-width="0.8"/><text x="992.6" y="389.5" text-anchor="end" font-size="7.7">GA 5.35%</text><polyline points="1011.1,392.6 1004.4,386.8 996.6,386.8" fill="none" stroke="#9a9a9a" stroke-width="0.8"/><text x="1013.8" y="373.7" text-anchor="end" font-size="7.7">MI 4.94%</text><polyline points="1017.5,372.5 1026.0,379.5" fill="none" stroke="#9a9a9a" stroke-width="0.8"/><text x="1038.6" y="362.0" text-anchor="end" font-size="7.7">OH</text><text x="1038.6" y="370.2" text-anchor="end" font-size="7.7">4.94%</text><polyline points="1052.7,370.5 1051.5,363.2 1042.5,363.2" fill="none" stroke="#9a9a9a" stroke-width="0.8"/><text x="1278.9" y="349.4" text-anchor="start" font-size="7.7">True 1.23%</text><polyline points="1321.7,346.7 1329.6,346.7 1329.6,356.5" fill="none" stroke="#9a9a9a" stroke-width="0.8"/><text x="1351.2" y="545.7" text-anchor="start" font-size="7.7">False 98.77%</text><polyline points="1338.2,533.5 1338.2,543.0 1347.2,543.0" fill="none" stroke="#9a9a9a" stroke-width="0.8"/></svg>
</body>
</html>
